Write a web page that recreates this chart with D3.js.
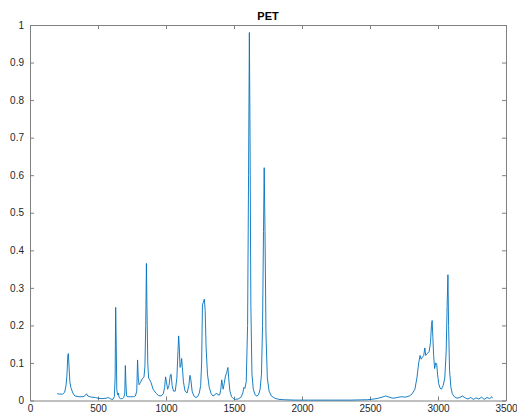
<!DOCTYPE html>
<html><head><meta charset="utf-8">
<script src="https://cdn.jsdelivr.net/npm/d3@7"></script>
<style>body{margin:0;background:#fff}svg{display:block}text{font-family:"Liberation Sans",Arial,sans-serif}</style>
</head><body>
<script>
const title = "PET";
const xTicks = [0,500,1000,1500,2000,2500,3000,3500];
const yTicks = [0,0.1,0.2,0.3,0.4,0.5,0.6,0.7,0.8,0.9,1];
const wavenumber = [200,220,240,255,265,272,278,282,287,293,300,315,330,360,390,405,415,425,450,480,500,530,560,575,585,600,610,620,626,630,634,638,644,650,655,665,680,690,697,701,705,710,720,740,760,775,785,791,796,802,812,825,838,845,851,856,860,866,872,880,890,905,925,945,965,980,990,997,1003,1012,1022,1032,1038,1045,1055,1068,1080,1088,1093,1098,1103,1108,1115,1120,1128,1140,1155,1168,1176,1183,1192,1205,1220,1232,1245,1255,1262,1268,1275,1282,1288,1295,1305,1318,1332,1345,1360,1372,1382,1395,1403,1410,1416,1420,1428,1437,1447,1455,1462,1470,1482,1495,1510,1530,1550,1565,1573,1580,1590,1600,1607,1613,1618,1624,1632,1642,1655,1668,1680,1692,1702,1710,1717,1722,1728,1735,1745,1758,1775,1800,1830,1870,1950,2050,2200,2350,2480,2530,2560,2590,2615,2640,2670,2700,2730,2760,2790,2810,2830,2845,2858,2868,2876,2885,2895,2903,2910,2920,2935,2945,2952,2957,2962,2968,2975,2983,2990,2997,3005,3015,3025,3038,3050,3060,3067,3073,3078,3085,3095,3105,3120,3140,3160,3180,3200,3220,3240,3260,3280,3300,3320,3340,3360,3380,3395,3400];
const intensity = [0.018,0.017,0.017,0.022,0.04,0.07,0.12,0.125,0.09,0.05,0.035,0.02,0.012,0.01,0.01,0.013,0.018,0.012,0.009,0.008,0.006,0.005,0.006,0.008,0.006,0.003,0.003,0.01,0.06,0.248,0.15,0.03,0.015,0.02,0.008,0.005,0.005,0.008,0.02,0.093,0.05,0.012,0.01,0.01,0.01,0.012,0.025,0.108,0.06,0.042,0.048,0.058,0.062,0.09,0.2,0.365,0.25,0.1,0.06,0.055,0.048,0.03,0.02,0.013,0.012,0.018,0.035,0.063,0.05,0.03,0.04,0.068,0.07,0.04,0.025,0.025,0.06,0.13,0.172,0.14,0.088,0.09,0.112,0.09,0.05,0.025,0.02,0.04,0.067,0.055,0.025,0.012,0.008,0.01,0.02,0.04,0.1,0.255,0.262,0.27,0.24,0.14,0.07,0.035,0.018,0.012,0.015,0.02,0.015,0.015,0.03,0.055,0.04,0.03,0.045,0.065,0.075,0.088,0.055,0.025,0.01,0.005,0.003,0.004,0.008,0.02,0.035,0.032,0.05,0.2,0.6,0.98,0.7,0.25,0.07,0.03,0.015,0.012,0.015,0.03,0.07,0.2,0.45,0.62,0.45,0.18,0.06,0.025,0.012,0.006,0.003,0.002,0.001,0.001,0.001,0.001,0.002,0.004,0.006,0.009,0.012,0.009,0.006,0.008,0.01,0.009,0.012,0.018,0.03,0.06,0.1,0.12,0.11,0.115,0.12,0.14,0.12,0.125,0.13,0.155,0.2,0.213,0.17,0.12,0.085,0.1,0.098,0.07,0.045,0.033,0.03,0.04,0.06,0.13,0.25,0.335,0.2,0.08,0.035,0.018,0.01,0.006,0.008,0.012,0.007,0.004,0.008,0.003,0.007,0.004,0.009,0.003,0.008,0.005,0.01,0.006];

const W = 517, H = 417;
const m = {left:30, right:11, top:25, bottom:16.5};
const svg = d3.select("body").append("svg").attr("width",W).attr("height",H);
const x = d3.scaleLinear().domain([0,3500]).range([m.left, W-m.right]);
const y = d3.scaleLinear().domain([0,1]).range([H-m.bottom, m.top]);
const axisCol = "#262626", boxCol = "#808080";

const g = svg.append("g");
const styleAxis = sel => {
  sel.select(".domain").attr("stroke", boxCol).attr("stroke-width", 1);
  sel.selectAll(".tick line").attr("stroke", boxCol);
  sel.selectAll(".tick text").attr("fill", axisCol).attr("font-size", 10);
};
g.append("g").attr("transform",`translate(0,${y(0)})`)
  .call(d3.axisBottom(x).tickValues(xTicks).tickSizeInner(-4).tickSizeOuter(0).tickPadding(4).tickFormat(d3.format("d")))
  .call(styleAxis);
g.append("g").attr("transform",`translate(0,${y(1)})`)
  .call(d3.axisTop(x).tickValues(xTicks).tickSizeInner(-4).tickSizeOuter(0).tickFormat(""))
  .call(styleAxis);
g.append("g").attr("transform",`translate(${x(0)},0)`)
  .call(d3.axisLeft(y).tickValues(yTicks).tickSizeInner(-4).tickSizeOuter(0).tickPadding(6).tickFormat(d3.format("~g")))
  .call(styleAxis);
g.append("g").attr("transform",`translate(${x(3500)},0)`)
  .call(d3.axisRight(y).tickValues(yTicks).tickSizeInner(-4).tickSizeOuter(0).tickFormat(""))
  .call(styleAxis);

const pts = wavenumber.map((w,i)=>[w,intensity[i]]);
svg.append("path").datum(pts)
  .attr("fill","none").attr("stroke","#0072BD").attr("stroke-width",0.9)
  .attr("d", d3.line().x(d=>x(d[0])).y(d=>y(d[1])));

svg.append("text").attr("x",(x(0)+x(3500))/2).attr("y",20)
  .attr("text-anchor","middle").attr("font-weight","bold").attr("font-size",11)
  .attr("fill","#000").text(title);
</script>
</body></html>
